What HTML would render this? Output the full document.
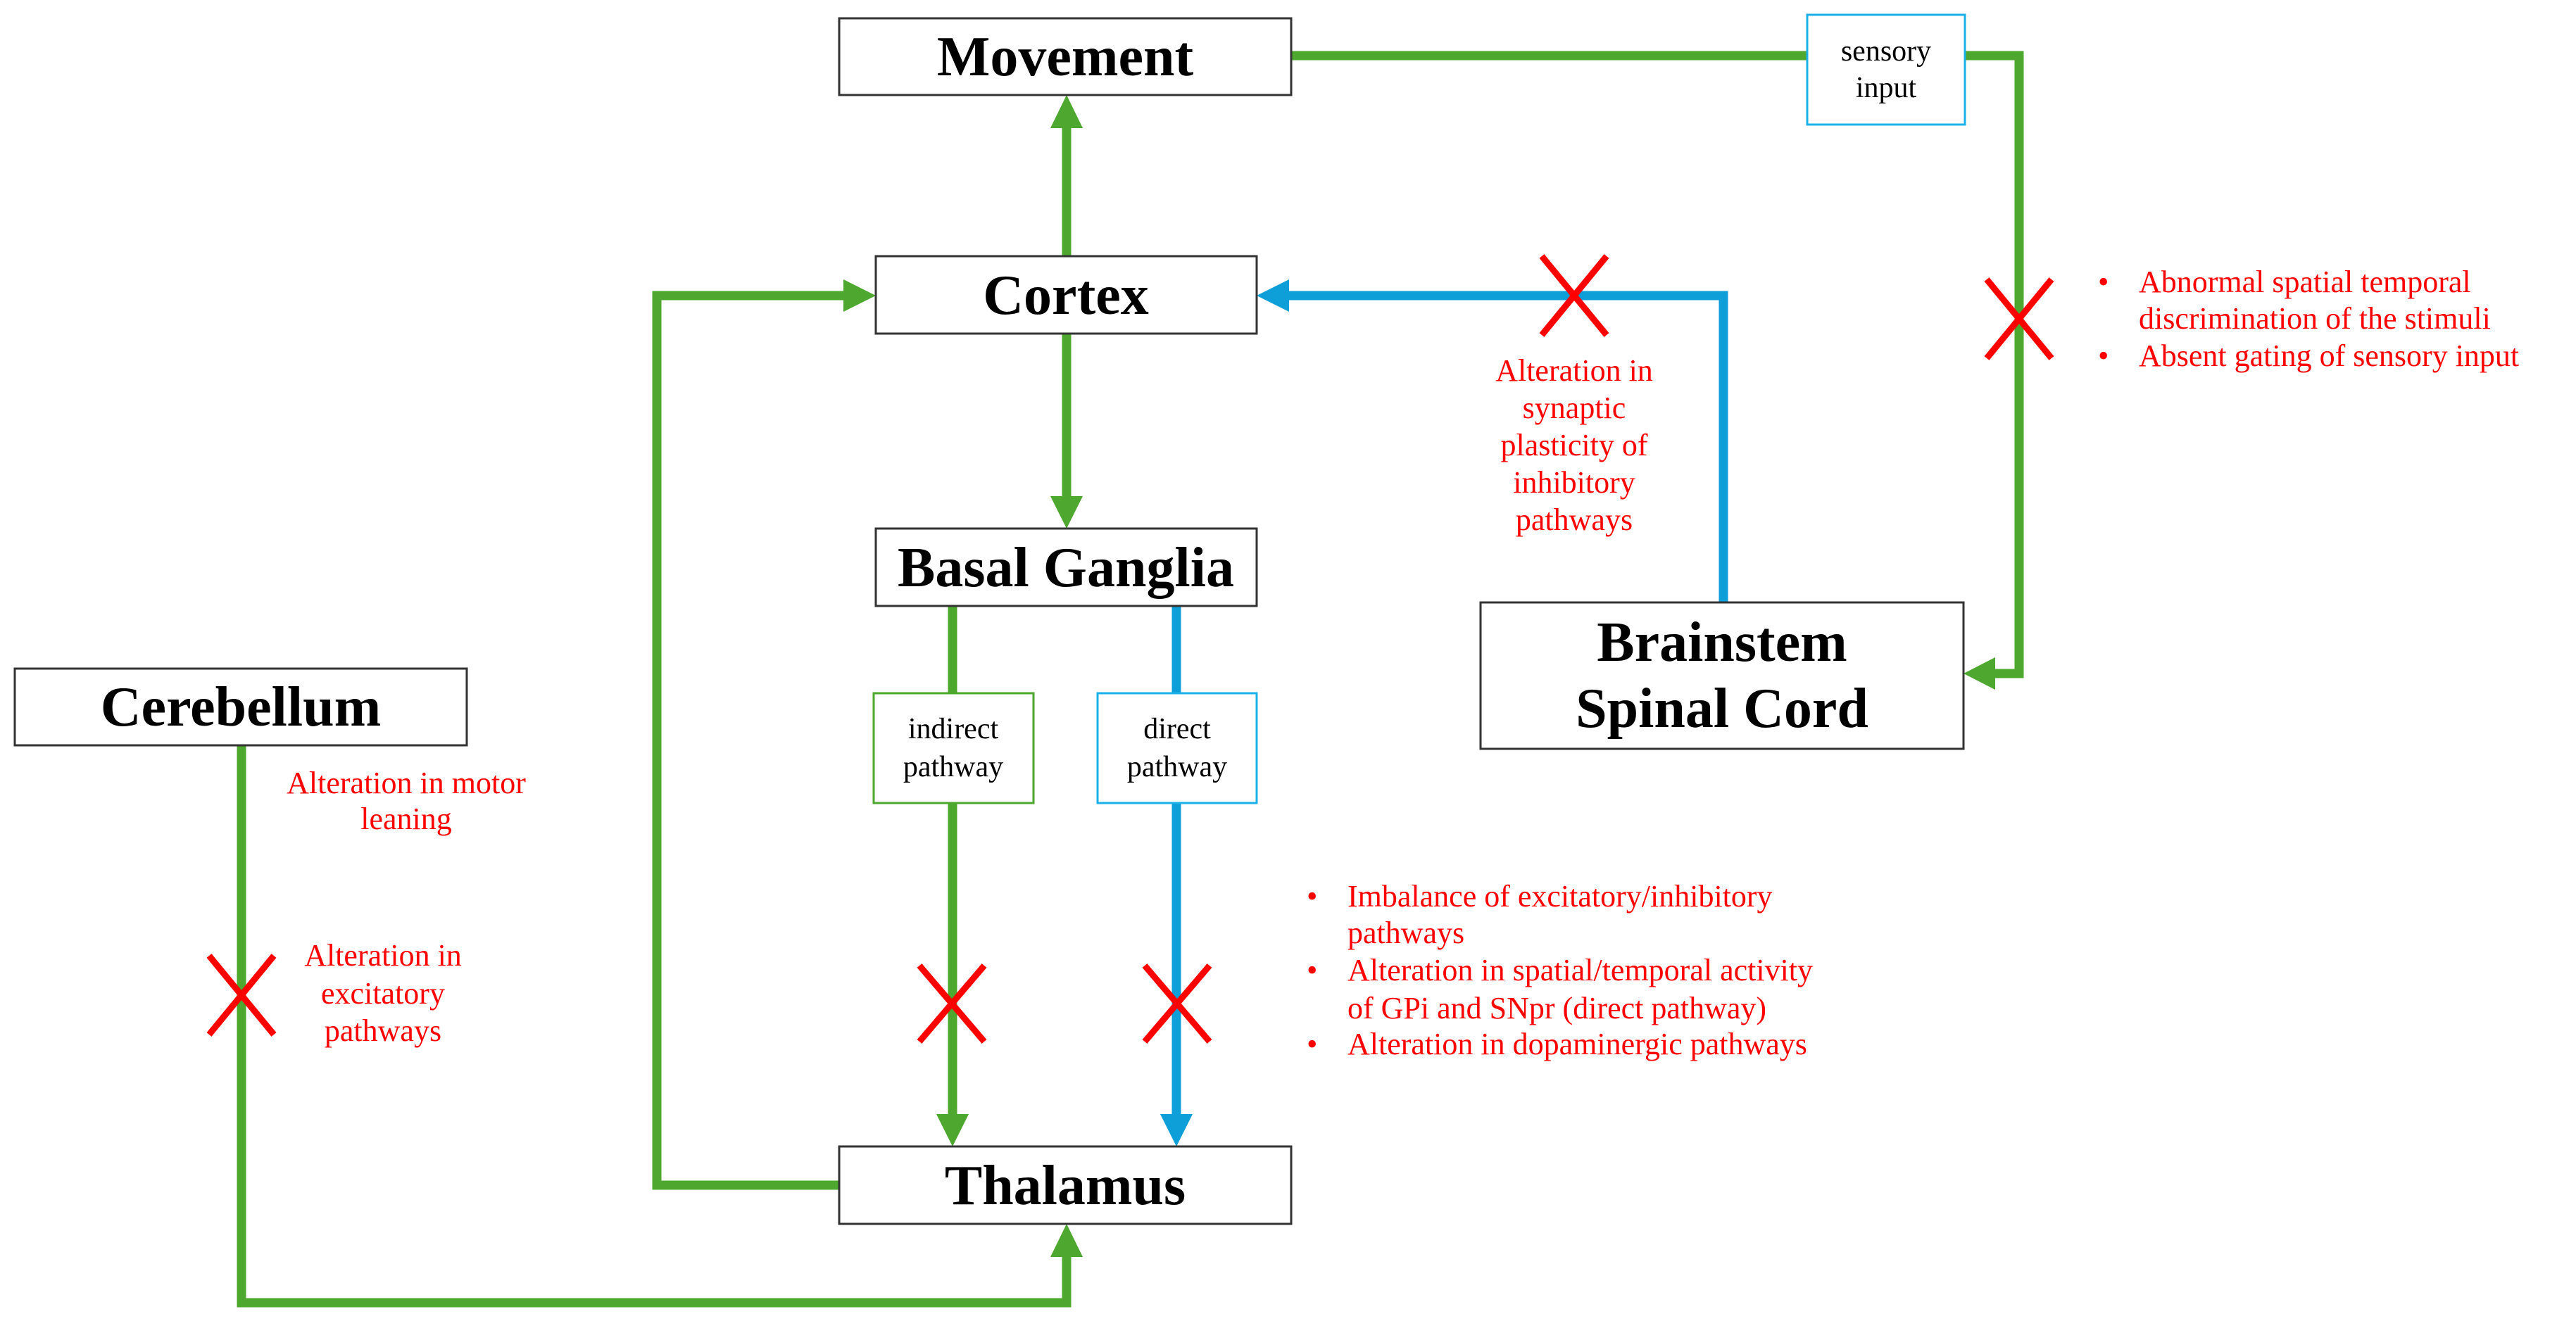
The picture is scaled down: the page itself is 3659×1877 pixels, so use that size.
<!DOCTYPE html>
<html><head><meta charset="utf-8"><style>
html,body{margin:0;padding:0;background:#fff}
svg{display:block}
.t{font-family:"Liberation Serif",serif;font-weight:bold;font-size:80px;fill:#000}
.s{font-family:"Liberation Serif",serif;font-size:42px;fill:#000}
.r{font-family:"Liberation Serif",serif;font-size:44px;fill:#ff0000}
</style></head><body>
<svg width="3659" height="1877" viewBox="0 0 3659 1877" xmlns="http://www.w3.org/2000/svg">
<g fill="none" stroke-linejoin="miter">
<g stroke="#4ea72e" stroke-width="13">
<polyline points="1834,79 2868,79 2868,957 2830,957"/>
<line x1="1515" y1="364" x2="1515" y2="180"/>
<line x1="1515" y1="474" x2="1515" y2="710"/>
<line x1="1353" y1="861" x2="1353" y2="985"/>
<line x1="1353" y1="1141" x2="1353" y2="1585"/>
<polyline points="1192,1684 933,1684 933,420 1200,420"/>
<polyline points="343,1059 343,1851 1515,1851 1515,1785"/>
</g>
<g stroke="#0e9fd8" stroke-width="13">
<polyline points="2448,856 2448,420 1830,420"/>
<line x1="1671" y1="861" x2="1671" y2="985"/>
<line x1="1671" y1="1141" x2="1671" y2="1585"/>
</g>
</g>
<g fill="#4ea72e">
<polygon points="2789,957 2834,934 2834,980"/>
<polygon points="1515,135 1492,182 1538,182"/>
<polygon points="1515,751 1492,705 1538,705"/>
<polygon points="1353,1629 1330,1583 1376,1583"/>
<polygon points="1244,420 1198,397 1198,443"/>
<polygon points="1515,1739 1492,1786 1538,1786"/>
</g>
<g fill="#0e9fd8">
<polygon points="1785,420 1831,397 1831,443"/>
<polygon points="1671,1629 1648,1583 1694,1583"/>
</g>
<g fill="#fff" stroke="#333" stroke-width="3">
<rect x="1192" y="26" width="642" height="109"/>
<rect x="1244" y="364" width="541" height="110"/>
<rect x="1244" y="751" width="541" height="110"/>
<rect x="1192" y="1629" width="642" height="110"/>
<rect x="21" y="950" width="642" height="109"/>
<rect x="2103" y="856" width="686" height="208"/>
</g>
<rect x="2567" y="21" width="224" height="156" fill="#fff" stroke="#1bb0e8" stroke-width="3"/>
<rect x="1241" y="985" width="227" height="156" fill="#fff" stroke="#4ea72e" stroke-width="3"/>
<rect x="1559" y="985" width="226" height="156" fill="#fff" stroke="#1bb0e8" stroke-width="3"/>
<g class="t" text-anchor="middle">
<text x="1513" y="107">Movement</text>
<text x="1514" y="446">Cortex</text>
<text x="1514" y="833">Basal Ganglia</text>
<text x="1513" y="1711">Thalamus</text>
<text x="342" y="1031">Cerebellum</text>
<text x="2446" y="939">Brainstem</text>
<text x="2446" y="1033">Spinal Cord</text>
</g>
<g class="s" text-anchor="middle">
<text x="2679" y="86">sensory</text>
<text x="2679" y="138">input</text>
<text x="1354" y="1049">indirect</text>
<text x="1354" y="1103">pathway</text>
<text x="1672" y="1049">direct</text>
<text x="1672" y="1103">pathway</text>
</g>
<g stroke="#ff0000" stroke-width="9">
<path d="M2190,364 L2282,476 M2282,364 L2190,476"/>
<path d="M2822,397 L2914,509 M2914,397 L2822,509"/>
<path d="M297,1358 L389,1470 M389,1358 L297,1470"/>
<path d="M1306,1372 L1398,1480 M1398,1372 L1306,1480"/>
<path d="M1626,1372 L1718,1480 M1718,1372 L1626,1480"/>
</g>
<g class="r" text-anchor="middle">
<text x="2236" y="541">Alteration in</text>
<text x="2236" y="594">synaptic</text>
<text x="2236" y="647">plasticity of</text>
<text x="2236" y="700">inhibitory</text>
<text x="2236" y="753">pathways</text>
<text x="577" y="1127">Alteration in motor</text>
<text x="577" y="1178">leaning</text>
<text x="544" y="1372">Alteration in</text>
<text x="544" y="1426">excitatory</text>
<text x="544" y="1479">pathways</text>
</g>
<g class="r">
<text x="2980" y="415">•</text>
<text x="3038" y="415">Abnormal spatial temporal</text>
<text x="3038" y="467">discrimination of the stimuli</text>
<text x="2980" y="520">•</text>
<text x="3038" y="520">Absent gating of sensory input</text>
<text x="1856" y="1288">•</text>
<text x="1914" y="1288">Imbalance of excitatory/inhibitory</text>
<text x="1914" y="1340">pathways</text>
<text x="1856" y="1393">•</text>
<text x="1914" y="1393">Alteration in spatial/temporal activity</text>
<text x="1914" y="1447">of GPi and SNpr (direct pathway)</text>
<text x="1856" y="1498">•</text>
<text x="1914" y="1498">Alteration in dopaminergic pathways</text>
</g>
</svg>
</body></html>
